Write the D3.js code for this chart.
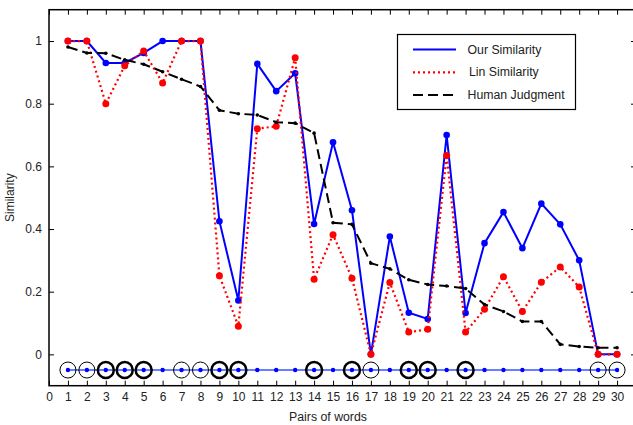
<!DOCTYPE html>
<html>
<head>
<meta charset="utf-8">
<script src="https://cdn.jsdelivr.net/npm/d3@7"></script>
<style>
  body { margin: 0; background: #fff; }
  text { font-family: "Liberation Sans", Arial, sans-serif; }
</style>
</head>
<body>
<div id="chart"></div>
<script>
var pairs = d3.range(1, 31);

var ourSimilarity = [1, 1, 0.93, 0.93, 0.962, 1, 1, 1, 0.425, 0.172,
  0.927, 0.84, 0.897, 0.416, 0.677, 0.46, 0, 0.376, 0.133, 0.113,
  0.7, 0.132, 0.355, 0.454, 0.339, 0.481, 0.415, 0.3, 0, 0];

var linSimilarity = [1, 1, 0.8, 0.921, 0.968, 0.866, 1, 1, 0.251, 0.09,
  0.72, 0.728, 0.947, 0.24, 0.382, 0.243, 0, 0.229, 0.071, 0.08,
  0.635, 0.071, 0.144, 0.248, 0.137, 0.23, 0.279, 0.215, 0, 0];

var humanJudgment = [0.981, 0.962, 0.961, 0.94, 0.926, 0.902, 0.878, 0.855, 0.779, 0.768,
  0.764, 0.741, 0.738, 0.706, 0.42, 0.415, 0.291, 0.273, 0.238, 0.223,
  0.218, 0.21, 0.159, 0.137, 0.105, 0.105, 0.032, 0.025, 0.021, 0.021];

// circle marks in the bottom row: 1 = thin circle, 2 = thick circle, 0 = none
var circleMarks = [1, 1, 2, 2, 2, 0, 1, 1, 2, 2,
  0, 0, 0, 2, 0, 2, 1, 0, 2, 2,
  0, 2, 0, 0, 0, 0, 0, 0, 1, 1];
var rowValue = -0.05;

var xTicks = d3.range(0, 31);
var yTicks = [0, 0.2, 0.4, 0.6, 0.8, 1];

var width = 633, height = 425;
var plotLeft = 49, plotRight = 636, plotTop = 9.7, plotBottom = 385.7;

var svg = d3.select('#chart').append('svg')
  .attr('width', width)
  .attr('height', height);

var x = d3.scaleLinear().domain([0, 31]).range([plotLeft, plotRight]);
var y = d3.scaleLinear().domain([-0.1, 1.1]).range([plotBottom, plotTop]);

// frame
svg.append('rect')
  .attr('x', plotLeft).attr('y', plotTop)
  .attr('width', plotRight - plotLeft).attr('height', plotBottom - plotTop)
  .attr('fill', 'none').attr('stroke', '#000').attr('stroke-width', 1.5);

// axes with inward ticks
var xAxis = svg.append('g')
  .attr('transform', 'translate(0,' + plotBottom + ')')
  .call(d3.axisBottom(x).tickValues(xTicks).tickFormat(d3.format('d')).tickSizeInner(-5).tickSizeOuter(0).tickPadding(7));
var xTop = svg.append('g')
  .attr('transform', 'translate(0,' + plotTop + ')')
  .call(d3.axisTop(x).tickValues(xTicks).tickFormat('').tickSizeInner(-5).tickSizeOuter(0));
var yAxis = svg.append('g')
  .attr('transform', 'translate(' + plotLeft + ',0)')
  .call(d3.axisLeft(y).tickValues(yTicks).tickFormat(d => d === 0 || d === 1 ? d : d3.format('.1f')(d)).tickSizeInner(-5).tickSizeOuter(0).tickPadding(7));
var yRight = svg.append('g')
  .attr('transform', 'translate(' + plotRight + ',0)')
  .call(d3.axisRight(y).tickValues(yTicks).tickFormat('').tickSizeInner(-5).tickSizeOuter(0));

[xAxis, xTop, yAxis, yRight].forEach(function(g) {
  g.select('.domain').remove();
  g.selectAll('text').attr('font-size', 12).attr('fill', '#222');
  g.selectAll('line').attr('stroke', '#000');
});

// axis labels
svg.append('text')
  .attr('x', 328).attr('y', 421)
  .attr('text-anchor', 'middle')
  .attr('font-size', 12.3).attr('fill', '#222')
  .text('Pairs of words');

svg.append('text')
  .attr('transform', 'translate(14,' + ((plotTop + plotBottom) / 2) + ') rotate(-90)')
  .attr('text-anchor', 'middle')
  .attr('font-size', 12).attr('fill', '#222')
  .text('Similarity');

function lineOf(values) {
  return d3.line()
    .x((d, i) => x(pairs[i]))
    .y(d => y(d))(values);
}

// our similarity
svg.append('path')
  .attr('d', lineOf(ourSimilarity))
  .attr('fill', 'none').attr('stroke', '#0000ff')
  .attr('stroke-width', 2);
svg.selectAll('.our-dot').data(ourSimilarity).enter().append('circle')
  .attr('cx', (d, i) => x(pairs[i])).attr('cy', d => y(d))
  .attr('r', 3.3).attr('fill', '#0000ff');

// lin similarity
svg.append('path')
  .attr('d', lineOf(linSimilarity))
  .attr('fill', 'none').attr('stroke', '#ff0000')
  .attr('stroke-width', 2.2).attr('stroke-dasharray', '2,3');
svg.selectAll('.lin-dot').data(linSimilarity).enter().append('circle')
  .attr('cx', (d, i) => x(pairs[i])).attr('cy', d => y(d))
  .attr('r', 3.5).attr('fill', '#ff0000');

// human judgment
svg.append('path')
  .attr('d', lineOf(humanJudgment))
  .attr('fill', 'none').attr('stroke', '#000')
  .attr('stroke-width', 2).attr('stroke-dasharray', '10,5');
svg.selectAll('.hj-dot').data(humanJudgment).enter().append('circle')
  .attr('cx', (d, i) => x(pairs[i])).attr('cy', d => y(d))
  .attr('r', 1.8).attr('fill', '#000');

// bottom row
svg.append('line')
  .attr('x1', x(pairs[0])).attr('x2', x(pairs[pairs.length - 1]))
  .attr('y1', y(rowValue)).attr('y2', y(rowValue))
  .attr('stroke', '#3355ff').attr('stroke-width', 2).attr('stroke-opacity', 0.75);
svg.selectAll('.row-dot').data(pairs).enter().append('circle')
  .attr('cx', d => x(d)).attr('cy', y(rowValue))
  .attr('r', 2.2).attr('fill', '#0000ff');
svg.selectAll('.row-ring').data(pairs.filter((d, i) => circleMarks[i] > 0)).enter().append('circle')
  .attr('cx', d => x(d)).attr('cy', y(rowValue))
  .attr('r', 8).attr('fill', 'none').attr('stroke', '#000')
  .attr('stroke-width', d => circleMarks[d - 1] === 2 ? 2.5 : 1);

// legend
var legendItems = [
  {name: 'Our Similarity', color: '#0000ff', dash: null, width: 2},
  {name: 'Lin Similarity', color: '#ff0000', dash: '2,3', width: 2.2},
  {name: 'Human Judgment', color: '#000', dash: '10,5', width: 2}
];
var legend = svg.append('g');
legend.append('rect')
  .attr('x', 397.5).attr('y', 34.5).attr('width', 178).attr('height', 75)
  .attr('fill', '#fff').attr('stroke', '#000').attr('stroke-width', 1.2);
legendItems.forEach(function(item, i) {
  var ly = 49.5 + i * 22.8;
  legend.append('line')
    .attr('x1', 413).attr('x2', 456).attr('y1', ly).attr('y2', ly)
    .attr('stroke', item.color).attr('stroke-width', item.width)
    .attr('stroke-dasharray', item.dash);
  legend.append('text')
    .attr('x', i === 1 ? 469 : 467.5).attr('y', ly + 4)
    .attr('font-size', 12.3).attr('fill', '#222')
    .text(item.name);
});
</script>
</body>
</html>
